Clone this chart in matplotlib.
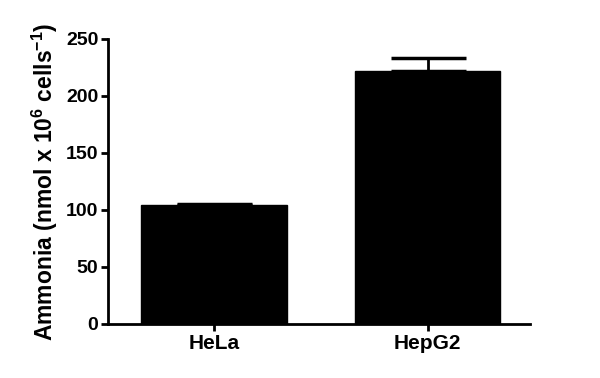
import matplotlib
matplotlib.use("Agg")
import matplotlib.pyplot as plt

cells = ['HeLa', 'HepG2']
ammonia = [104.5, 222]
sem = [0.7, 11]

plt.rcParams['font.family'] = 'Liberation Sans'
plt.rcParams['font.weight'] = 'bold'
plt.rcParams['mathtext.fontset'] = 'custom'
plt.rcParams['mathtext.rm'] = 'Liberation Sans:bold'
plt.rcParams['mathtext.bf'] = 'Liberation Sans:bold'
plt.rcParams['mathtext.default'] = 'bf'

fig = plt.figure(figsize=(6, 3.78), dpi=100)
ax = fig.add_axes([0.18, 0.143, 0.703, 0.754])

x = range(len(cells))
ax.bar(x, ammonia, width=0.68, color='black', edgecolor='black')
ax.errorbar(x, ammonia, yerr=[[0, 0], sem], fmt='none', ecolor='black',
            elinewidth=2, capsize=27, capthick=2.5)

ax.set_xlim(-0.495, 1.477)
ax.set_ylim(0, 250)
ax.set_yticks([0, 50, 100, 150, 200, 250])
ax.set_xticks(list(x))
ax.set_xticklabels(cells)

for s in ['top', 'right']:
    ax.spines[s].set_visible(False)
for s in ['left', 'bottom']:
    ax.spines[s].set_linewidth(2)
ax.tick_params(axis='both', width=2, length=5, pad=2)
ax.tick_params(axis='y', labelsize=14)
ax.tick_params(axis='x', labelsize=15)
for lab in ax.get_xticklabels() + ax.get_yticklabels():
    lab.set_fontweight('bold')

ax.set_ylabel('Ammonia (nmol x 10$^{6}$ cells$^{-1}$)',
              fontsize=16.5, fontweight='bold', labelpad=4)

fig.savefig('out.png', dpi=100)
